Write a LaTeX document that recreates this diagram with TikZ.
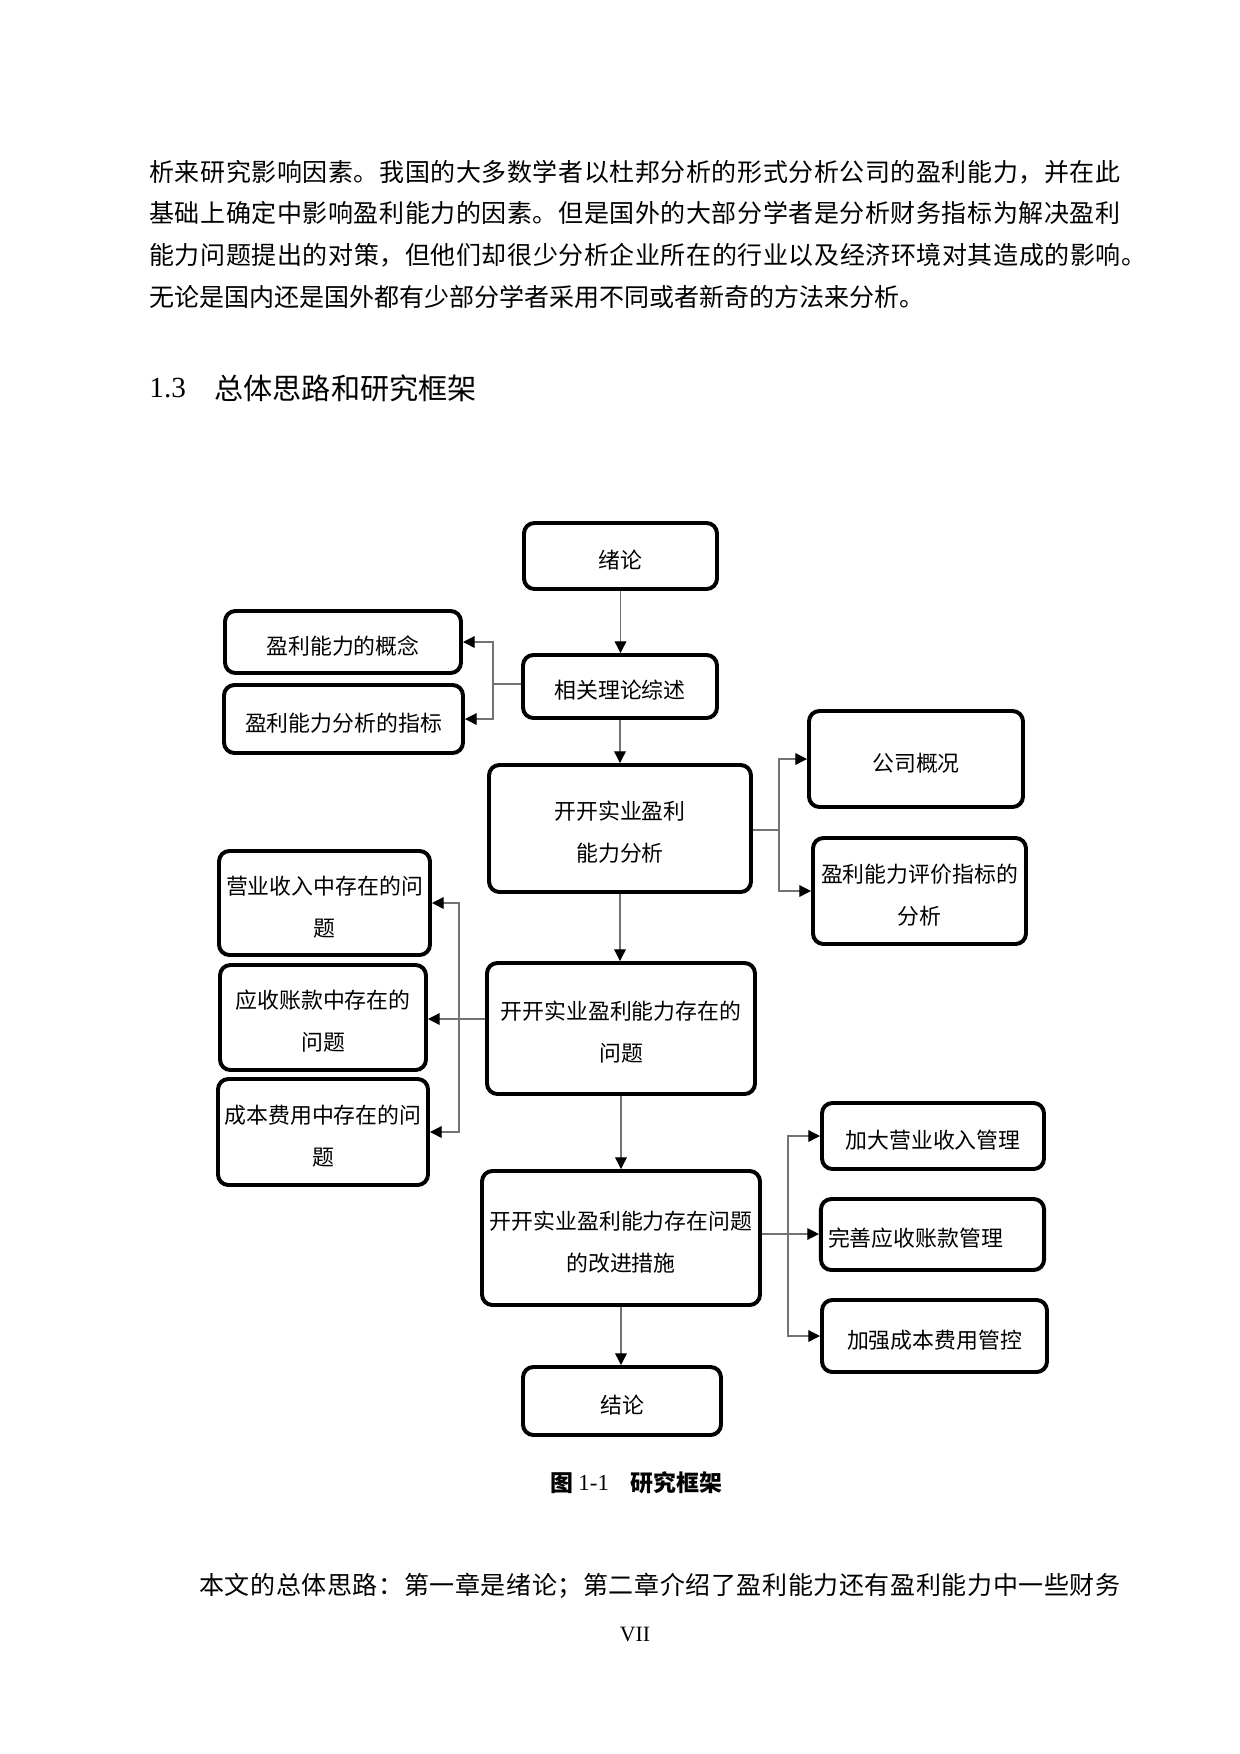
\documentclass[tikz,border=0pt]{standalone}
\usepackage{fontspec}
\setmainfont{Liberation Serif}
\newfontfamily\cjk{Noto Sans CJK SC}
\usetikzlibrary{arrows.meta}
\newlength\pu
\setlength\pu{0.48pt}
\makeatletter
\def\zh@end{\zh@end}
\def\zh@loop#1{\ifx#1\zh@end\else\hfil#1\expandafter\zh@loop\fi}
\def\zh@first#1{#1\zh@loop}
\newcommand\zhjust[2]{\hbox to #1\pu{\zh@first#2\zh@end}}
\makeatother
\newcommand\bs{\raisebox{4.4pt}{\vphantom{盈}}}
\begin{document}
\begin{tikzpicture}[x=0.48pt,y=-0.48pt,
  box/.style={draw=black, line width=1.9pt, rounded corners=5pt, align=center, inner sep=0pt,
    font=\cjk\fontsize{10.5}{20.2}\selectfont, fill=white},
  sz/.style 2 args={minimum width=#1*0.48pt, minimum height=#2*0.48pt},
  conn/.style={draw=black!55, line width=0.6pt},
  arr/.style={conn, -{Triangle[length=5.6pt,width=5.6pt,color=black]}},
  bodytxt/.style={anchor=west, inner sep=0pt, font=\cjk\fontsize{12}{20}\selectfont},
  plain/.style={anchor=west, inner sep=0pt},
]
\fill[white] (0,0) rectangle (1240,1754);
\useasboundingbox (0,0) rectangle (1240,1754);

% body text
\node[bodytxt] (l1) at (149,172) {\zhjust{971}{析来研究影响因素。我国的大多数学者以杜邦分析的形式分析公司的盈利能力，并在此}};
\node[bodytxt] (l2) at (149,213) {\zhjust{971}{基础上确定中影响盈利能力的因素。但是国外的大部分学者是分析财务指标为解决盈利}};
\node[bodytxt] (l3) at (149,255) {\zhjust{997}{能力问题提出的对策，但他们却很少分析企业所在的行业以及经济环境对其造成的影响。}};
\node[bodytxt] (l4) at (149,297) {无论是国内还是国外都有少部分学者采用不同或者新奇的方法来分析。};

% heading
\node[plain, font=\fontsize{14}{16}\selectfont] (secnum) at (149,388) {1.3};
\node[plain, font=\cjk\fontsize{14}{16}\selectfont] (sectitle) at (214,388) {总体思路和研究框架};

% boxes
\node[box, sz={193}{66}] (xulun) at (620.5,556) {\bs 绪论};
\node[box, sz={194}{63}] (xiangguan) at (620,686.5) {\bs 相关理论综述};
\node[box, sz={236}{62}] (gainian) at (343,642) {\bs 盈利能力的概念};
\node[box, sz={239}{68}] (zhibiao) at (343.5,719) {\bs 盈利能力分析的指标};
\node[box, sz={262}{127}] (fenxi) at (620,828.5) {\bs 开开实业盈利\\能力分析};
\node[box, sz={214}{96}] (gaikuang) at (916,759) {\bs 公司概况};
\node[box, sz={213}{106}] (pingjia) at (919.5,891) {\bs 盈利能力评价指标的\\分析};
\node[box, sz={268}{131}] (wenti) at (621,1028.5) {\bs 开开实业盈利能力存在的\\问题};
\node[box, sz={211}{104}] (yingye) at (324.5,903) {\bs 营业收入中存在的问\\题};
\node[box, sz={206}{105}] (yingshou) at (323,1017.5) {\bs 应收账款中存在的\\问题};
\node[box, sz={210}{106}] (chengben) at (323,1132) {\bs 成本费用中存在的问\\题};
\node[box, sz={278}{134}] (gaijin) at (621,1238) {\bs 开开实业盈利能力存在问题\\的改进措施};
\node[box, sz={222}{66}] (jiada) at (933,1136) {\bs 加大营业收入管理};
\node[box, align=left, text width=100.3pt, inner xsep=3.4pt, minimum height=71*0.48pt] (wanshan) at (932.5,1234.5) {\bs 完善应收账款管理};
\node[box, sz={225}{72}] (jiaqiang) at (934.5,1336) {\bs 加强成本费用管控};
\node[box, sz={198}{68}] (jielun) at (622,1401) {\bs 结论};

% connectors
\draw[arr] (xulun.south) -- (xulun.south |- xiangguan.north);
\coordinate (b1) at (493,684);
\draw[conn] (xiangguan.west |- b1) -- (b1);
\draw[arr] (b1) |- (gainian.east);
\draw[arr] (b1) |- (zhibiao.east);
\draw[arr] (xiangguan.south) -- (xiangguan.south |- fenxi.north);
\coordinate (b2) at (779,830);
\draw[conn] (fenxi.east |- b2) -- (b2);
\draw[arr] (b2) |- (gaikuang.west);
\draw[arr] (b2) |- (pingjia.west);
\draw[arr] (fenxi.south) -- (fenxi.south |- wenti.north);
\coordinate (b3) at (459,1019);
\draw[arr] (wenti.west |- b3) -- (yingshou.east |- b3);
\draw[arr] (b3) |- (yingye.east);
\draw[arr] (b3) |- (chengben.east);
\draw[arr] (wenti.south) -- (wenti.south |- gaijin.north);
\coordinate (b4) at (788,1234);
\draw[conn] (gaijin.east |- b4) -- (b4);
\draw[arr] (b4) |- (jiada.west);
\draw[arr] (b4) -- (wanshan.west |- b4);
\draw[arr] (b4) |- (jiaqiang.west);
\draw[arr] (gaijin.south) -- (gaijin.south |- jielun.north);

% caption
\node[plain, font=\cjk\bfseries\fontsize{11}{12}\selectfont] (captu) at (550,1483) {图};
\node[plain, font=\fontsize{11}{12}\selectfont] (capnum) at (578,1483) {1-1};
\node[plain, font=\cjk\bfseries\fontsize{11}{12}\selectfont] (captxt) at (630,1483) {研究框架};

% bottom text
\node[bodytxt] (l5) at (199,1586) {\zhjust{921}{本文的总体思路：第一章是绪论；第二章介绍了盈利能力还有盈利能力中一些财务}};
\node[inner sep=0pt, font=\fontsize{10.5}{12}\selectfont] (pagenum) at (635,1634) {VII};
\end{tikzpicture}
\end{document}
